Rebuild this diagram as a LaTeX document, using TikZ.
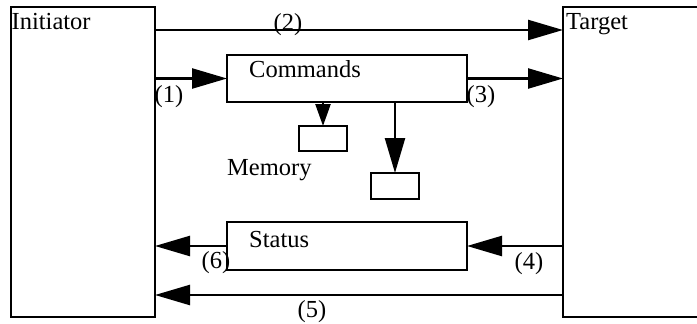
\documentclass[tikz,border=0pt]{standalone}
\usepackage{fontspec}
\setmainfont{Liberation Serif}
\usetikzlibrary{arrows.meta}
\begin{document}
\begin{tikzpicture}[x=1pt,y=-1pt,
  box/.style={draw,line width=2.4pt,rectangle,anchor=north west,inner sep=0pt,outer sep=0pt},
  txt/.style={inner sep=0pt,font=\fontsize{24.5}{28}\selectfont},
  wire/.style={line width=2.4pt},
  bigtip/.style={wire,-{Triangle[length=35pt,width=20pt]}},
  smalltip/.style={wire,-{Triangle[length=22pt,width=15pt]}}]
\useasboundingbox (0,0) rectangle (697,324);
\clip (0,0) rectangle (697,324);

% the two end devices
\node[box,minimum width=144pt,minimum height=310pt] (ini) at (11,7) {};
\node[box,minimum width=160pt,minimum height=310pt] (tgt) at (563,7) {};
\node[txt,anchor=base west] (initxt) at (11.5,30) {Initiator};
\node[txt,anchor=base west] (tgttxt) at (566,30) {Target};

% command and status buffers
\node[box,minimum width=240pt,minimum height=47pt] (cmd) at (227,55) {};
\node[txt,anchor=base west] (cmdtxt) at (249,77) {Commands};
\node[box,minimum width=240pt,minimum height=48pt] (sts) at (227,222) {};
\node[txt,anchor=base west] (ststxt) at (249,247) {Status};

% memory blocks
\node[box,minimum width=48pt,minimum height=25pt] (mem1) at (299,126) {};
\node[box,minimum width=48pt,minimum height=26pt] (mem2) at (371,173) {};
\node[txt,anchor=base west] (memtxt) at (227,175) {Memory};

% rows of the direct links
\coordinate (r2) at (0,30);
\coordinate (r5) at (0,295);

% connectors
\draw[bigtip] (ini.east |- r2) -- (tgt.west |- r2);
\draw[bigtip] (cmd.west -| ini.east) -- (cmd.west);
\draw[bigtip] (cmd.east) -- (cmd.east -| tgt.west);
\draw[smalltip] (cmd.south -| mem1.north) -- (mem1.north);
\draw[bigtip] (cmd.south -| mem2.north) -- (mem2.north);
\draw[bigtip] (sts.east -| tgt.west) -- (sts.east);
\draw[bigtip] (sts.west) -- (sts.west -| ini.east);
\draw[bigtip] (tgt.west |- r5) -- (ini.east |- r5);

% step numbers
\node[txt] (l1) at (169,96.5) {(1)};
\node[txt] (l2) at (288,25) {(2)};
\node[txt] (l3) at (481,97) {(3)};
\node[txt] (l4) at (529,264) {(4)};
\node[txt] (l5) at (312,312) {(5)};
\node[txt] (l6) at (216,263) {(6)};
\end{tikzpicture}
\end{document}
